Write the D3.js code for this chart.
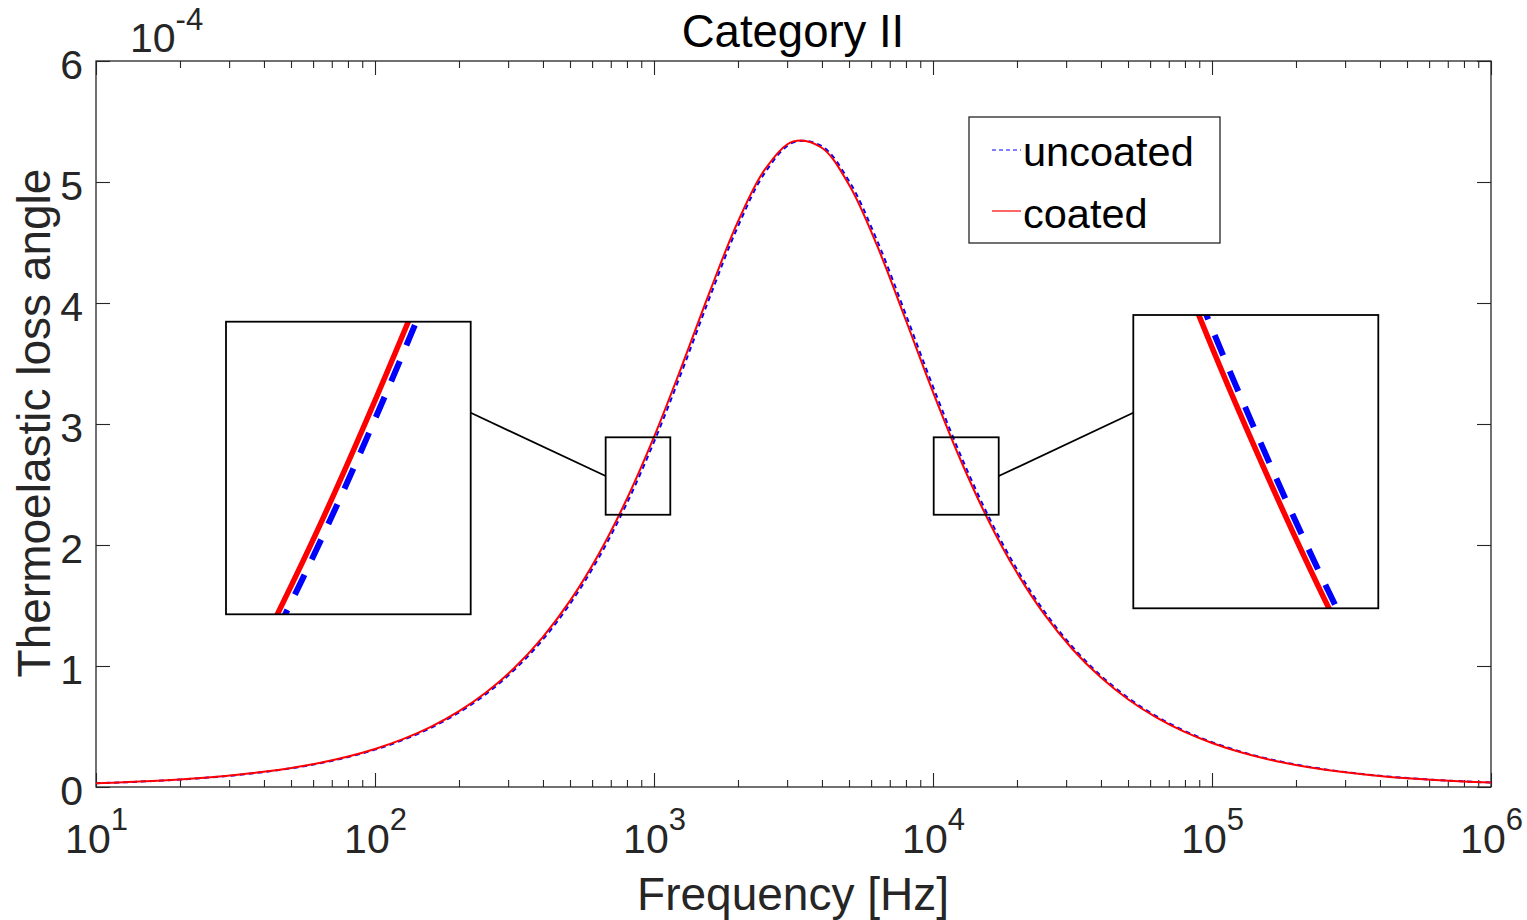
<!DOCTYPE html>
<html>
<head>
<meta charset="utf-8">
<script src="https://cdn.jsdelivr.net/npm/d3@7"></script>
<style>
  html, body { margin: 0; padding: 0; background: #fff; }
  svg { display: block; font-family: "Liberation Sans", Arial, Helvetica, sans-serif; }
</style>
</head>
<body>
<svg id="chart" width="1527" height="920"></svg>
<script>
// ---------------- data (values in units of 1e-4) ----------------
const freqHz = [
  10, 12.59, 15.85, 19.95, 25.12, 31.62, 39.81, 50.12, 63.10, 79.43,
  100, 125.9, 158.5, 199.5, 251.2, 316.2, 398.1, 501.2, 631.0, 794.3,
  1000, 1259, 1585, 1995, 2512, 3162, 3981, 5012, 6310, 7943,
  10000, 12589, 15849, 19953, 25119, 31623, 39811, 50119, 63096, 79433,
  100000, 125893, 158489, 199526, 251189, 316228, 398107, 501187, 630957, 794328,
  1000000
];
const uncoated = [
  0.0309, 0.0389, 0.0490, 0.0616, 0.0776, 0.0977, 0.1230, 0.1548, 0.1949, 0.2453,
  0.3087, 0.3884, 0.4886, 0.6144, 0.7720, 0.9689, 1.2139, 1.5166, 1.8867, 2.3314,
  2.8517, 3.4355, 4.0487, 4.6282, 5.0854, 5.3279, 5.2985, 5.0043, 4.5134, 3.9201,
  3.3089, 2.7365, 2.2316, 1.8030, 1.4478, 1.1580, 0.9239, 0.7359, 0.5856, 0.4657,
  0.3701, 0.2941, 0.2337, 0.1857, 0.1475, 0.1172, 0.0931, 0.0739, 0.0587, 0.0467,
  0.0371
];
const coated = [
  0.0314, 0.0396, 0.0498, 0.0627, 0.0790, 0.0994, 0.1251, 0.1575, 0.1983, 0.2495,
  0.3141, 0.3952, 0.4971, 0.6250, 0.7853, 0.9855, 1.2345, 1.5419, 1.9174, 2.3678,
  2.8936, 3.4810, 4.0942, 4.6680, 5.1121, 5.3355, 5.2851, 4.9732, 4.4713, 3.8740,
  3.2641, 2.6961, 2.1968, 1.7739, 1.4239, 1.1386, 0.9083, 0.7234, 0.5756, 0.4577,
  0.3638, 0.2891, 0.2297, 0.1825, 0.1450, 0.1152, 0.0915, 0.0727, 0.0577, 0.0459,
  0.0364
];
const seriesNames = ["uncoated", "coated"];
const xMajorTicks = [1e1, 1e2, 1e3, 1e4, 1e5, 1e6];
const xTickExponents = ["1", "2", "3", "4", "5", "6"];
const yTicks = [0, 1, 2, 3, 4, 5, 6];
const yExponent = "-4";
const titleText = "Category II";
const xLabelText = "Frequency [Hz]";
const yLabelText = "Thermoelastic loss angle";
// zoomed regions (data space): [fMin, fMax], [yMin, yMax]
const zoomLeftX = [671, 1144];
const zoomRightX = [10058, 17200];
const zoomY = [2.25, 2.89];

// ---------------- layout ----------------
const svg = d3.select("#chart");
const L = 96, R = 1491, T = 61, B = 787;
const axisColor = "#262626";
const FONT = 41;
const FAM = "'Liberation Sans', Arial, sans-serif";

const x = d3.scaleLog().domain([10, 1e6]).range([L, R]);
const y = d3.scaleLinear().domain([0, 6]).range([B, T]);

const ptsU = freqHz.map((f, i) => [f, uncoated[i]]);
const ptsC = freqHz.map((f, i) => [f, coated[i]]);

// minor ticks
const xMinorTicks = [];
for (let d = 1; d < 6; d++) for (let m = 2; m <= 9; m++) xMinorTicks.push(m * Math.pow(10, d));

function styleAxis(g) {
  g.select(".domain").remove();
  g.selectAll(".tick line").attr("stroke", axisColor).attr("stroke-width", 1.1);
}

// bottom axis (major with labels)
const gxb = svg.append("g").attr("transform", `translate(0,${B})`)
  .call(d3.axisBottom(x).tickValues(xMajorTicks).tickSizeInner(-14).tickSizeOuter(0).tickFormat(""));
styleAxis(gxb);
gxb.selectAll(".tick text").remove();
gxb.selectAll(".tick").each(function(d, i) {
  const t = d3.select(this).append("text")
    .attr("y", 66).attr("text-anchor", "middle")
    .attr("fill", axisColor).attr("font-size", FONT)
    .attr("font-family", FAM);
  t.append("tspan").text("10");
  t.append("tspan").attr("font-size", 31).attr("dy", -23).text(xTickExponents[i]);
});
const gxbm = svg.append("g").attr("transform", `translate(0,${B})`)
  .call(d3.axisBottom(x).tickValues(xMinorTicks).tickSizeInner(-7).tickSizeOuter(0).tickFormat(""));
styleAxis(gxbm);

// top axis (mirror ticks)
const gxt = svg.append("g").attr("transform", `translate(0,${T})`)
  .call(d3.axisTop(x).tickValues(xMajorTicks).tickSizeInner(-14).tickSizeOuter(0).tickFormat(""));
styleAxis(gxt);
const gxtm = svg.append("g").attr("transform", `translate(0,${T})`)
  .call(d3.axisTop(x).tickValues(xMinorTicks).tickSizeInner(-7).tickSizeOuter(0).tickFormat(""));
styleAxis(gxtm);

// left axis
const gyl = svg.append("g").attr("transform", `translate(${L},0)`)
  .call(d3.axisLeft(y).tickValues(yTicks).tickSizeInner(-14).tickSizeOuter(0).tickPadding(13).tickFormat(d3.format("d")));
styleAxis(gyl);
gyl.selectAll(".tick text").attr("fill", axisColor).attr("font-size", FONT)
  .attr("font-family", FAM).attr("dy", "0.42em");

// right axis
const gyr = svg.append("g").attr("transform", `translate(${R},0)`)
  .call(d3.axisRight(y).tickValues(yTicks).tickSizeInner(-14).tickSizeOuter(0).tickFormat(""));
styleAxis(gyr);

// box
svg.append("rect").attr("x", L).attr("y", T).attr("width", R - L).attr("height", B - T)
  .attr("fill", "none").attr("stroke", axisColor).attr("stroke-width", 1.3);

// exponent label
const ex = svg.append("text").attr("x", 130).attr("y", 52).attr("fill", axisColor).attr("font-size", FONT);
ex.append("tspan").text("10");
ex.append("tspan").attr("font-size", 31).attr("dy", -22).text(yExponent);

// title
svg.append("text").attr("x", 793).attr("y", 47).attr("text-anchor", "middle")
  .attr("fill", "#000").attr("font-size", 45.5).text(titleText);
// x label
svg.append("text").attr("x", 793).attr("y", 910).attr("text-anchor", "middle")
  .attr("fill", axisColor).attr("font-size", 46).text(xLabelText);
// y label
svg.append("text").attr("transform", `translate(50,${(T + B) / 2 - 1}) rotate(-90)`)
  .attr("text-anchor", "middle").attr("fill", axisColor).attr("font-size", 46).text(yLabelText);

// ---------------- curves ----------------
svg.append("defs").append("clipPath").attr("id", "plotClip")
  .append("rect").attr("x", L).attr("y", T).attr("width", R - L).attr("height", B - T);

function lineFor(xs, ys) {
  return d3.line().x(d => xs(d[0])).y(d => ys(d[1])).curve(d3.curveCatmullRom.alpha(0.5));
}
const mainLine = lineFor(x, y);
const plotG = svg.append("g").attr("clip-path", "url(#plotClip)");
plotG.append("path").datum(ptsU).attr("d", mainLine).attr("fill", "none")
  .attr("stroke", "#0000ff").attr("stroke-width", 2).attr("stroke-dasharray", "5,4");
plotG.append("path").datum(ptsC).attr("d", mainLine).attr("fill", "none")
  .attr("stroke", "#ff0000").attr("stroke-width", 2);

// ---------------- insets ----------------
function inset(id, zx, zy, box, connFrom, connTo) {
  const sx0 = x(zx[0]), sx1 = x(zx[1]), sy0 = y(zy[1]), sy1 = y(zy[0]);
  const ix = d3.scaleLog().domain(zx).range([box.x0, box.x1]);
  const iy = d3.scaleLinear().domain(zy).range([box.y1, box.y0]);
  svg.append("defs").append("clipPath").attr("id", id)
    .append("rect").attr("x", box.x0).attr("y", box.y0)
    .attr("width", box.x1 - box.x0).attr("height", box.y1 - box.y0);
  const g = svg.append("g");
  g.append("rect").attr("x", box.x0).attr("y", box.y0)
    .attr("width", box.x1 - box.x0).attr("height", box.y1 - box.y0).attr("fill", "#fff");
  const lg = g.append("g").attr("clip-path", `url(#${id})`);
  const il = lineFor(ix, iy);
  lg.append("path").datum(ptsU).attr("d", il).attr("fill", "none")
    .attr("stroke", "#0000ff").attr("stroke-width", 6).attr("stroke-dasharray", "22,17");
  lg.append("path").datum(ptsC).attr("d", il).attr("fill", "none")
    .attr("stroke", "#ff0000").attr("stroke-width", 5.5);
  g.append("rect").attr("x", box.x0).attr("y", box.y0)
    .attr("width", box.x1 - box.x0).attr("height", box.y1 - box.y0)
    .attr("fill", "none").attr("stroke", "#000").attr("stroke-width", 1.8);
  svg.append("rect").attr("x", sx0).attr("y", sy0).attr("width", sx1 - sx0).attr("height", sy1 - sy0)
    .attr("fill", "none").attr("stroke", "#000").attr("stroke-width", 1.8);
  const from = connFrom(sx0, sx1, sy0, sy1);
  svg.append("line").attr("x1", from[0]).attr("y1", from[1])
    .attr("x2", connTo[0]).attr("y2", connTo[1]).attr("stroke", "#000").attr("stroke-width", 1.8);
}
inset("clipL", zoomLeftX, zoomY, { x0: 226, x1: 470.7, y0: 321.7, y1: 614.3 },
  (a, b, c, d) => [a, (c + d) / 2], [470.7, 412.7]);
inset("clipR", zoomRightX, zoomY, { x0: 1133.3, x1: 1378.3, y0: 315, y1: 608.3 },
  (a, b, c, d) => [b, (c + d) / 2], [1133.3, 412.7]);

// ---------------- legend ----------------
const lg = svg.append("g");
lg.append("rect").attr("x", 969).attr("y", 117).attr("width", 251).attr("height", 126)
  .attr("fill", "#fff").attr("stroke", axisColor).attr("stroke-width", 1.3);
const legendRows = [
  { name: seriesNames[0], color: "#0000ff", dash: "4,3", ly: 150, ty: 166 },
  { name: seriesNames[1], color: "#ff0000", dash: null, ly: 211, ty: 228 }
];
legendRows.forEach(r => {
  lg.append("line").attr("x1", 992).attr("x2", 1021).attr("y1", r.ly).attr("y2", r.ly)
    .attr("stroke", r.color).attr("stroke-width", 1.2)
    .attr("stroke-dasharray", r.dash);
  lg.append("text").attr("x", 1023).attr("y", r.ty).attr("fill", "#000")
    .attr("font-size", 41.5).text(r.name);
});
</script>
</body>
</html>
